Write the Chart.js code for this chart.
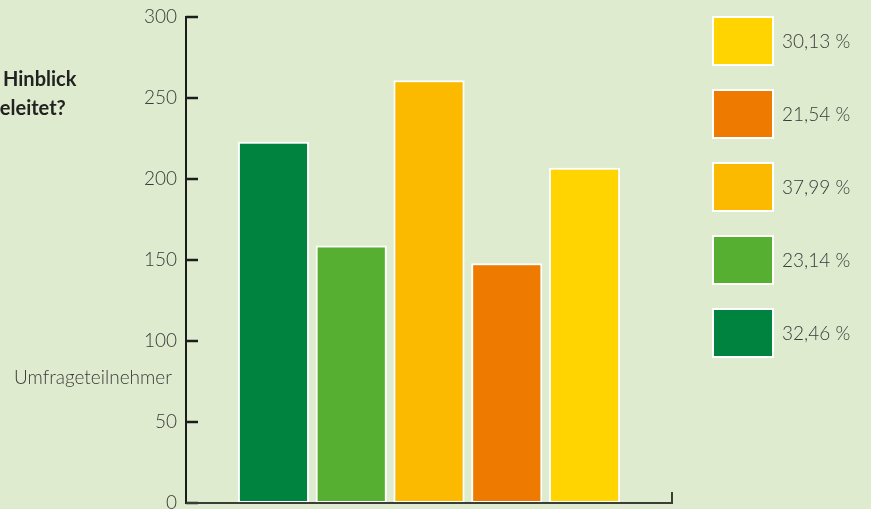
<!DOCTYPE html>
<html lang="de">
<head>
<meta charset="utf-8">
<title>Umfrageteilnehmer</title>
<script src="https://cdn.jsdelivr.net/npm/chart.js@4/dist/chart.umd.min.js"></script>
<style>
  html, body { margin: 0; padding: 0; background: #DFEBCF; overflow: hidden; }
  #wrap { position: relative; width: 871px; height: 509px; }
</style>
</head>
<body>
<div id="wrap"><canvas id="chart" width="871" height="509"></canvas></div>
<script>
// Survey answers: number of participants per answer, with the share shown in the legend
const categories = [''];
const shareLabels = ['32,46 %', '23,14 %', '37,99 %', '21,54 %', '30,13 %'];
const participants = [223, 159, 261, 148, 207];
const seriesColors = ['#00833F', '#56AF31', '#FBB900', '#EE7B00', '#FFD400'];
const yTickValues = [0, 50, 100, 150, 200, 250, 300];
const axisTitle = 'Umfrageteilnehmer';
// question text; its start runs off the left edge of the canvas
const questionLines = [['im ', 'Hinblick'], ['abg', 'eleitet?']];

const BG = '#DFEBCF';
const INK = '#1c1c1c';
const TEXT = '#3a3a3a';
const LIGHT_FONT = '300 19px Lato, "Open Sans", sans-serif';

const datasets = shareLabels.map((label, i) => ({
  label,
  data: [participants[i]],
  backgroundColor: seriesColors[i],
  borderColor: '#ffffff',
  borderWidth: 2,
  borderSkipped: false,
  barPercentage: 0.915,
  categoryPercentage: 0.8
}));

// background, axes, inside tick marks, side texts and the legend boxes
const decorations = {
  id: 'decorations',
  beforeDraw(chart) {
    const { ctx, width, height } = chart;
    ctx.save();
    ctx.fillStyle = BG;
    ctx.fillRect(0, 0, width, height);
    ctx.restore();
  },
  afterDraw(chart) {
    const { ctx, chartArea } = chart;
    const y = chart.scales.y;
    ctx.save();

    // tick marks pointing into the plot
    ctx.strokeStyle = INK;
    ctx.lineWidth = 2.5;
    y.ticks.forEach(t => {
      const py = Math.round(y.getPixelForValue(t.value));
      ctx.beginPath();
      ctx.moveTo(chartArea.left, py);
      ctx.lineTo(chartArea.left + 12, py);
      ctx.stroke();
    });

    // base line with the closing tick at its right end
    ctx.strokeStyle = '#3a3d38';
    ctx.lineWidth = 2;
    ctx.beginPath();
    ctx.moveTo(chartArea.left, chartArea.bottom);
    ctx.lineTo(chartArea.right, chartArea.bottom);
    ctx.lineTo(chartArea.right, chartArea.bottom - 11);
    ctx.stroke();

    // axis title
    ctx.fillStyle = TEXT;
    ctx.font = LIGHT_FONT;
    ctx.textAlign = 'left';
    ctx.textBaseline = 'middle';
    ctx.fillText(axisTitle, 14, 378);

    // question text
    ctx.fillStyle = '#222222';
    ctx.font = '700 20px Lato, "Open Sans", sans-serif';
    ctx.textAlign = 'left';
    ctx.textBaseline = 'alphabetic';
    const starts = [3, 0], baselines = [86, 115];
    questionLines.forEach(([hidden, shown], i) => {
      const x = starts[i] - ctx.measureText(hidden).width;
      ctx.fillText(hidden + shown, x, baselines[i]);
    });

    // legend, last series on top
    const ds = chart.data.datasets;
    const order = ds.map((d, i) => i).reverse();
    order.forEach((idx, row) => {
      const bx = 713, by = 17 + row * 73, bw = 60, bh = 48;
      ctx.fillStyle = ds[idx].backgroundColor;
      ctx.fillRect(bx, by, bw, bh);
      ctx.strokeStyle = '#ffffff';
      ctx.lineWidth = 2;
      ctx.strokeRect(bx, by, bw, bh);
      ctx.fillStyle = TEXT;
      ctx.font = LIGHT_FONT;
      ctx.textAlign = 'left';
      ctx.textBaseline = 'middle';
      ctx.fillText(ds[idx].label, 782, by + bh / 2 + 1);
    });
    ctx.restore();
  }
};

new Chart(document.getElementById('chart'), {
  type: 'bar',
  data: { labels: categories, datasets },
  options: {
    responsive: false,
    animation: false,
    devicePixelRatio: 1,
    layout: { padding: { top: 17, right: 199, bottom: 6, left: 0 } },
    plugins: {
      legend: { display: false },
      tooltip: { enabled: false }
    },
    scales: {
      x: {
        type: 'category',
        grid: { display: false, drawTicks: false },
        border: { display: false },
        ticks: { display: false },
        afterFit(scale) { scale.height = 0; }
      },
      y: {
        min: 0,
        max: 300,
        afterBuildTicks(scale) { scale.ticks = yTickValues.map(v => ({ value: v })); },
        grid: { display: false, drawTicks: false },
        border: { display: true, color: INK, width: 2 },
        ticks: {
          padding: 9,
          color: TEXT,
          font: { family: 'Lato, "Open Sans", sans-serif', size: 19, weight: '300' }
        },
        afterFit(scale) {
          scale.width = 186;
          scale.paddingTop = 0;
          scale.paddingBottom = 0;
        }
      }
    }
  },
  plugins: [decorations]
});
</script>
</body>
</html>
